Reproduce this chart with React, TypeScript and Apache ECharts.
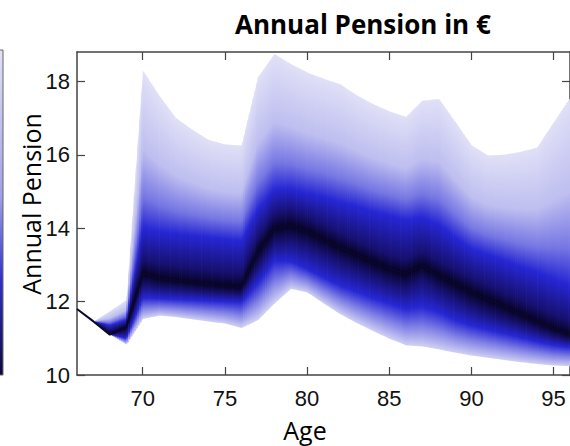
import React, { useEffect, useRef } from 'react';
import * as echarts from 'echarts';

const ages = [66, 67, 68, 69, 70, 71, 72, 73, 74, 75, 76, 77, 78, 79, 80, 81, 82, 83, 84, 85, 86, 87, 88, 89, 90, 91, 92, 93, 94, 95, 96];
const upperBound = [11.8, 11.46, 11.74, 12.04, 18.29, 17.6, 17.0, 16.68, 16.4, 16.28, 16.25, 18.11, 18.74, 18.47, 18.24, 18.07, 17.92, 17.62, 17.38, 17.18, 17.03, 17.47, 17.52, 16.9, 16.25, 15.98, 16.0, 16.08, 16.2, 16.88, 17.55];
const upperBlue = [11.8, 11.46, 11.35, 11.5, 14.0, 13.9, 13.85, 13.8, 13.75, 13.7, 13.65, 14.5, 15.05, 15.07, 14.95, 14.85, 14.71, 14.6, 14.45, 14.35, 14.22, 14.3, 14.1, 13.75, 13.44, 13.28, 13.12, 12.95, 12.8, 12.62, 12.44];
const median = [11.8, 11.46, 11.1, 11.31, 12.76, 12.63, 12.58, 12.52, 12.47, 12.42, 12.39, 13.35, 14.0, 14.07, 13.92, 13.7, 13.48, 13.28, 13.08, 12.89, 12.76, 12.98, 12.72, 12.49, 12.26, 12.06, 11.86, 11.66, 11.46, 11.26, 11.09];
const lowerBlue = [11.8, 11.46, 11.1, 11.0, 12.1, 12.08, 12.06, 12.04, 12.02, 12.0, 11.98, 12.5, 13.1, 13.1, 12.89, 12.66, 12.44, 12.27, 12.1, 11.95, 11.8, 11.86, 11.72, 11.5, 11.35, 11.24, 11.13, 11.02, 10.91, 10.81, 10.75];
const lowerBound = [11.8, 11.46, 11.1, 10.83, 11.53, 11.62, 11.58, 11.52, 11.46, 11.4, 11.28, 11.5, 11.95, 12.35, 12.25, 11.95, 11.66, 11.42, 11.2, 10.99, 10.81, 10.78, 10.7, 10.61, 10.53, 10.47, 10.41, 10.35, 10.3, 10.26, 10.24];
const xTicks = [70, 75, 80, 85, 90, 95];
const yTicks = [10, 12, 14, 16, 18];

const LIGHT_TOP = 'rgb(224,224,247)';
const U_MID = 'rgb(190,190,240)';
const U_MID2 = 'rgb(118,118,227)';
const BLUE = 'rgb(38,38,212)';
const NAVY = 'rgb(22,16,110)';
const CORE = 'rgb(6,2,34)';
const L_MID = 'rgb(128,128,229)';
const LIGHT_BOT = 'rgb(208,208,244)';

const tickFont = '"Liberation Sans Narrow", "Liberation Sans", Arial, sans-serif';
const labelFont = '"Open Sans", Lato, sans-serif';

export default function App() {
  const ref = useRef<HTMLDivElement>(null);
  useEffect(() => {
    const chart = echarts.init(ref.current!, undefined, { renderer: 'svg' });
    const curves = [upperBound, upperBlue, median, lowerBlue, lowerBound];
    const segs = ages.slice(0, -1).map((a, i) => [a, ages[i + 1], i]);

    const renderItem = (params: any, api: any) => {
      const i = api.value(2);
      const a0 = ages[i];
      const a1 = ages[i + 1];
      const p0 = curves.map((c) => api.coord([a0, c[i]]));
      const p1 = curves.map((c) => api.coord([a1, c[i + 1]]));
      const x0 = p0[0][0];
      const x1 = p1[0][0];
      const n = Math.max(1, Math.ceil((x1 - x0) / 2));
      const children: any[] = [];
      const ys = (t: number) => curves.map((_, j) => p0[j][1] + (p1[j][1] - p0[j][1]) * t);
      for (let k = 0; k < n; k++) {
        const t0 = k / n;
        const t1 = (k + 1) / n;
        const ya = ys(t0);
        const yb = ys(t1);
        const ym = ys((t0 + t1) / 2);
        const xa = x0 + (x1 - x0) * t0;
        const xb = x0 + (x1 - x0) * t1 + 0.7;
        const top = Math.min(ya[0], yb[0]);
        const bot = Math.max(ya[4], yb[4]);
        const H = bot - top;
        if (H < 0.8) continue;
        const off = (y: number) => Math.min(1, Math.max(0, (y - top) / H));
        const [yU, yUB, yM, yLB, yL] = ym;
        const cu = Math.min(14, 0.45 * (yM - yUB));
        const cl = Math.min(14, 0.45 * (yLB - yM));
        const raw: [number, string][] = [
          [off(yU), LIGHT_TOP],
          [off(yU + 0.5 * (yUB - yU)), U_MID],
          [off(yU + 0.8 * (yUB - yU)), U_MID2],
          [off(yUB), BLUE],
          [off(yM - cu), NAVY],
          [off(yM), CORE],
          [off(yM + cl), NAVY],
          [off(yLB), BLUE],
          [off(yLB + 0.5 * (yL - yLB)), L_MID],
          [off(yL), LIGHT_BOT],
        ];
        let last = 0;
        const stops = raw.map(([o, c]) => {
          last = Math.max(last, o);
          return { offset: last, color: c };
        });
        children.push({
          type: 'polygon',
          silent: true,
          shape: { points: [[xa, ya[0]], [xb, yb[0]], [xb, yb[4]], [xa, ya[4]]] },
          style: { fill: new echarts.graphic.LinearGradient(0, 0, 0, 1, stops), stroke: null },
        });
      }
      return { type: 'group', children };
    };

    const axisLineStyle = { color: '#444', width: 1.5 };
    const tickStyle = { color: '#444', width: 1.2 };

    chart.setOption({
      animation: false,
      backgroundColor: '#fff',
      title: {
        text: 'Annual Pension in €',
        left: 230,
        top: 6,
        textStyle: { fontFamily: labelFont, fontWeight: 'bold', fontSize: 26, color: '#000' },
      },
      grid: { left: 77, top: 52, width: 495, height: 323, show: false },
      xAxis: [
        {
          type: 'value', min: 66, max: 96, position: 'bottom',
          axisLine: { lineStyle: axisLineStyle },
          axisTick: { inside: true, length: 8, customValues: xTicks, lineStyle: tickStyle },
          axisLabel: { customValues: xTicks, fontFamily: tickFont, fontSize: 22, color: '#111', margin: 12 },
          splitLine: { show: false },
        },
        {
          type: 'value', min: 66, max: 96, position: 'top',
          axisLine: { lineStyle: axisLineStyle },
          axisTick: { inside: true, length: 8, customValues: xTicks, lineStyle: tickStyle },
          axisLabel: { show: false },
          splitLine: { show: false },
        },
      ],
      yAxis: [
        {
          type: 'value', min: 10, max: 18.8, position: 'left',
          axisLine: { show: true, lineStyle: axisLineStyle },
          axisTick: { show: true, inside: true, length: 8, customValues: yTicks, lineStyle: tickStyle },
          axisLabel: { customValues: yTicks, fontFamily: tickFont, fontSize: 22, color: '#111', margin: 7 },
          splitLine: { show: false },
        },
        {
          type: 'value', min: 10, max: 18.8, position: 'right',
          axisLine: { show: true, lineStyle: axisLineStyle },
          axisTick: { show: true, inside: true, length: 8, customValues: yTicks, lineStyle: tickStyle },
          axisLabel: { show: false },
          splitLine: { show: false },
        },
      ],
      graphic: [
        {
          type: 'rect',
          shape: { x: -4, y: 50, width: 7, height: 325 },
          style: {
            fill: new echarts.graphic.LinearGradient(0, 0, 0, 1, [
              { offset: 0, color: 'rgb(225,225,246)' },
              { offset: 0.45, color: 'rgb(160,160,234)' },
              { offset: 0.7, color: 'rgb(50,50,205)' },
              { offset: 1, color: 'rgb(10,8,60)' },
            ]),
            stroke: '#666',
            lineWidth: 1,
          },
          silent: true,
        },
        {
          type: 'text',
          x: 305,
          y: 430,
          style: { text: 'Age', fontFamily: labelFont, fontSize: 25, fill: '#000', align: 'center', verticalAlign: 'middle' },
        },
        {
          type: 'text',
          x: 31,
          y: 204,
          rotation: Math.PI / 2,
          style: { text: 'Annual Pension', fontFamily: labelFont, fontSize: 25, fill: '#000', align: 'center', verticalAlign: 'middle' },
        },
      ],
      series: [
        {
          type: 'custom',
          xAxisIndex: 0,
          yAxisIndex: 0,
          clip: true,
          renderItem,
          data: segs,
          silent: true,
          z: 1,
        },
        {
          type: 'line',
          xAxisIndex: 0,
          yAxisIndex: 0,
          data: ages.map((a, i) => [a, median[i]]),
          showSymbol: false,
          symbol: 'none',
          lineStyle: { color: 'rgb(10,8,40)', width: 2 },
          silent: true,
          clip: true,
          z: 2,
        },
      ],
    });
    return () => chart.dispose();
  }, []);
  return <div ref={ref} style={{ position: 'absolute', left: 0, top: 0, width: 570, height: 446 }} />;
}
